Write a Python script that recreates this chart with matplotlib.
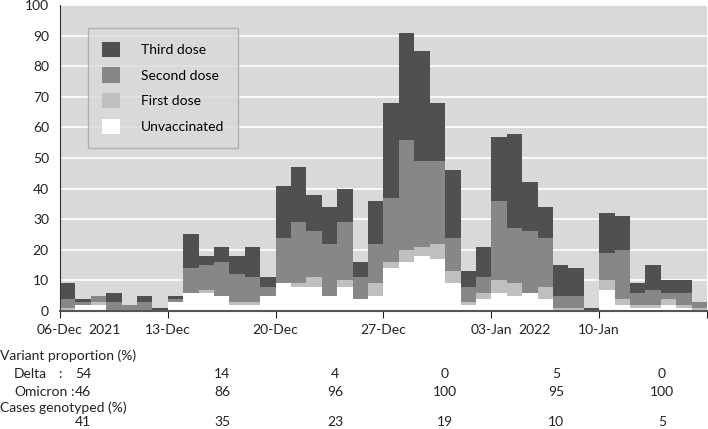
import pandas as pd
import matplotlib.pyplot as plt

plt.rcParams['font.family'] = ['Lato', 'DejaVu Sans']

# daily cases by vaccination status, 06-Dec-2021 .. 16-Jan-2022
days = pd.date_range('2021-12-06', '2022-01-16', freq='D')
unvacc = [0, 2, 2, 0, 0, 0, 0,
          3, 6, 6, 5, 2, 2, 5,
          9, 8, 8, 5, 8, 4, 5,
          14, 16, 18, 17, 9, 2, 4,
          6, 5, 6, 4, 0, 0, 0,
          7, 2, 1, 1, 2, 1, 0]
first = [1, 0, 1, 0, 0, 0, 0,
         0, 0, 1, 0, 1, 1, 0,
         0, 1, 3, 0, 2, 0, 4,
         2, 4, 3, 5, 4, 1, 2,
         4, 4, 0, 4, 1, 1, 0,
         3, 2, 1, 1, 2, 1, 1]
second = [3, 1, 2, 3, 2, 3, 0,
          1, 8, 8, 11, 9, 8, 3,
          15, 20, 15, 17, 19, 7, 13,
          21, 36, 28, 27, 11, 5, 5,
          26, 18, 20, 16, 4, 4, 0,
          9, 16, 4, 5, 2, 4, 2]
third = [5, 1, 0, 3, 0, 2, 1,
         1, 11, 3, 5, 6, 10, 3,
         17, 18, 12, 12, 11, 5, 14,
         31, 35, 36, 19, 22, 5, 10,
         21, 31, 16, 10, 10, 9, 1,
         13, 11, 3, 8, 4, 4, 0]

# weekly table under the chart
delta = ['54', '14', '4', '0', '5', '0']
omicron = ['46', '86', '96', '100', '95', '100']
genotyped = ['41', '35', '23', '19', '10', '5']

fig = plt.figure(figsize=(7.08, 4.29), dpi=100)
ax = fig.add_axes([60 / 708, 118 / 429, 647 / 708, 306 / 429])
ax.set_facecolor('#d9d9d9')

b1 = [u + f for u, f in zip(unvacc, first)]
b2 = [a + s for a, s in zip(b1, second)]
kw = dict(width=1.0, align='edge', linewidth=0)
ax.bar(days, unvacc, color='white', label='Unvaccinated', **kw)
ax.bar(days, first, bottom=unvacc, color='#bfbfbf', label='First dose', **kw)
ax.bar(days, second, bottom=b1, color='#878787', label='Second dose', **kw)
ax.bar(days, third, bottom=b2, color='#505050', label='Third dose', **kw)

ax.set_ylim(0, 100)
ax.set_yticks(range(0, 101, 10))
ax.set_xlim(days[0], days[-1] + pd.Timedelta(days=1))
weeks = pd.date_range('2021-12-06', '2022-01-17', freq='7D')
ax.set_xticks(weeks)
labels = [t.strftime('%d-%b') for t in weeks]
labels[-1] = ''
ax.set_xticklabels(labels)
ax.grid(axis='y', color='white', linewidth=1.2)
ax.set_axisbelow(True)
ax.tick_params(axis='y', length=0, labelsize=10, colors='#222222', pad=8)
ax.tick_params(axis='x', length=5, direction='out', labelsize=10, colors='#222222', pad=4)
for s in ['top', 'right']:
    ax.spines[s].set_visible(False)
ax.spines['left'].set_color('#333333')
ax.spines['bottom'].set_color('#555555')
ax.spines['bottom'].set_linewidth(1.5)

h, l = ax.get_legend_handles_labels()
leg = ax.legend(h[::-1], l[::-1], loc='upper left', bbox_to_anchor=(0.043, 0.925),
                fontsize=10, frameon=True, fancybox=False, facecolor='#d9d9d9',
                edgecolor='#a6a6a6', handlelength=1.3, handleheight=1.3,
                labelspacing=0.75, borderpad=1.0, handletextpad=1.5,
                borderaxespad=0)
leg.get_frame().set_linewidth(1.0)

def px(x, y, s, **k):
    fig.text(x / 708, 1 - y / 429, s, fontsize=10, color='#222222', va='center', **k)

px(88, 330, '2021')
px(518, 330, '2022')
px(0, 356, 'Variant proportion (%)')
px(14, 374, 'Delta')
px(58, 374, ':')
px(14, 392, 'Omicron')
px(70, 392, ':')
px(0, 408, 'Cases genotyped (%)')
cols = [83, 222, 335, 445, 556, 662]
for x, d, o, g in zip(cols, delta, omicron, genotyped):
    px(x, 374, d, ha='center')
    px(x, 392, o, ha='center')
    px(x, 422, g, ha='center')

fig.savefig('out.png', dpi=100)
